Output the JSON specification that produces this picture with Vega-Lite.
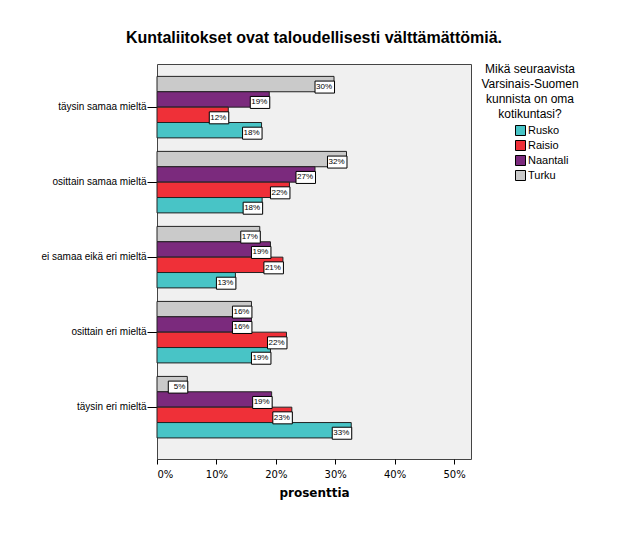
{
  "$schema": "https://vega.github.io/schema/vega-lite/v6.json",
  "autosize": {"type": "none"},
  "padding": {"left": 157, "top": 64, "right": 158, "bottom": 85},
  "width": 314,
  "height": 395,
  "background": "white",
  "title": {"text": "Kuntaliitokset ovat taloudellisesti välttämättömiä.", "font": "Liberation Sans", "fontSize": 16, "fontWeight": "bold", "color": "#000", "offset": 18, "anchor": "middle"},
  "config": {
    "view": {"fill": "#f0f0f0", "stroke": "#444", "strokeWidth": 1}
  },
  "data": {"values": [
    {"kategoria": "täysin samaa mieltä", "kunta": "Turku", "osuus": 0.298},
    {"kategoria": "täysin samaa mieltä", "kunta": "Naantali", "osuus": 0.189},
    {"kategoria": "täysin samaa mieltä", "kunta": "Raisio", "osuus": 0.120},
    {"kategoria": "täysin samaa mieltä", "kunta": "Rusko", "osuus": 0.176},
    {"kategoria": "osittain samaa mieltä", "kunta": "Turku", "osuus": 0.319},
    {"kategoria": "osittain samaa mieltä", "kunta": "Naantali", "osuus": 0.266},
    {"kategoria": "osittain samaa mieltä", "kunta": "Raisio", "osuus": 0.223},
    {"kategoria": "osittain samaa mieltä", "kunta": "Rusko", "osuus": 0.177},
    {"kategoria": "ei samaa eikä eri mieltä", "kunta": "Turku", "osuus": 0.173},
    {"kategoria": "ei samaa eikä eri mieltä", "kunta": "Naantali", "osuus": 0.191},
    {"kategoria": "ei samaa eikä eri mieltä", "kunta": "Raisio", "osuus": 0.212},
    {"kategoria": "ei samaa eikä eri mieltä", "kunta": "Rusko", "osuus": 0.132},
    {"kategoria": "osittain eri mieltä", "kunta": "Turku", "osuus": 0.159},
    {"kategoria": "osittain eri mieltä", "kunta": "Naantali", "osuus": 0.159},
    {"kategoria": "osittain eri mieltä", "kunta": "Raisio", "osuus": 0.218},
    {"kategoria": "osittain eri mieltä", "kunta": "Rusko", "osuus": 0.191},
    {"kategoria": "täysin eri mieltä", "kunta": "Turku", "osuus": 0.051},
    {"kategoria": "täysin eri mieltä", "kunta": "Naantali", "osuus": 0.193},
    {"kategoria": "täysin eri mieltä", "kunta": "Raisio", "osuus": 0.227},
    {"kategoria": "täysin eri mieltä", "kunta": "Rusko", "osuus": 0.327}
  ]},
  "encoding": {
    "y": {
      "field": "kategoria", "type": "nominal",
      "sort": ["täysin samaa mieltä", "osittain samaa mieltä", "ei samaa eikä eri mieltä", "osittain eri mieltä", "täysin eri mieltä"],
      "scale": {"paddingInner": 0.18, "paddingOuter": 0.223, "align": 0.37},
      "axis": {"title": null, "domain": false, "ticks": true, "tickSize": 10, "tickColor": "#000", "labelFont": "Liberation Sans", "labelFontSize": 10, "labelColor": "#000", "labelPadding": 1}
    },
    "yOffset": {
      "field": "kunta", "type": "nominal",
      "sort": ["Turku", "Naantali", "Raisio", "Rusko"],
      "scale": {"paddingInner": 0, "paddingOuter": 0}
    },
    "x": {
      "field": "osuus", "type": "quantitative",
      "scale": {"domain": [0, 0.5286], "nice": false},
      "axis": {"values": [0, 0.1, 0.2, 0.3, 0.4, 0.5], "format": ".0%", "grid": false, "domain": false, "tickSize": 5, "tickColor": "#000", "labelFont": "DejaVu Sans", "labelFontSize": 10, "labelColor": "#000", "labelPadding": 5, "title": "prosenttia", "titleFont": "DejaVu Sans", "titleFontSize": 12, "titleFontWeight": "bold", "titleColor": "#000", "titlePadding": 8}
    }
  },
  "layer": [
    {
      "mark": {"type": "bar", "stroke": "#222", "strokeWidth": 1},
      "encoding": {
        "color": {
          "field": "kunta", "type": "nominal",
          "scale": {"domain": ["Rusko", "Raisio", "Naantali", "Turku"], "range": ["#48C4C6", "#EF3038", "#7B2A7D", "#CACACA"]},
          "legend": {
            "orient": "none", "legendX": 324, "legendY": 0,
            "title": ["Mikä seuraavista", "Varsinais-Suomen", "kunnista on oma", "kotikuntasi?"],
            "titleFont": "Liberation Sans", "titleFontSize": 12, "titleFontWeight": "normal", "titleColor": "#000",
            "titleAlign": "center", "titleAnchor": "middle", "titleLineHeight": 15, "titlePadding": 4,
            "symbolType": "square", "symbolSize": 100, "symbolStrokeColor": "#000", "symbolStrokeWidth": 1, "symbolOffset": 24,
            "labelFont": "Liberation Sans", "labelFontSize": 11, "labelColor": "#000", "labelOffset": 2, "rowPadding": 0
          }
        }
      }
    },
    {
      "mark": {"type": "point", "shape": "M-1.9,-0.3H0.05V0.9H-1.9Z", "size": 400, "filled": true, "fill": "white", "stroke": "#000", "strokeWidth": 1, "opacity": 1}
    },
    {
      "mark": {"type": "text", "align": "right", "baseline": "middle", "dx": -2, "dy": 3, "font": "Liberation Sans", "fontSize": 8, "color": "#000"},
      "encoding": {"text": {"field": "osuus", "type": "quantitative", "format": ".0%"}}
    }
  ]
}
